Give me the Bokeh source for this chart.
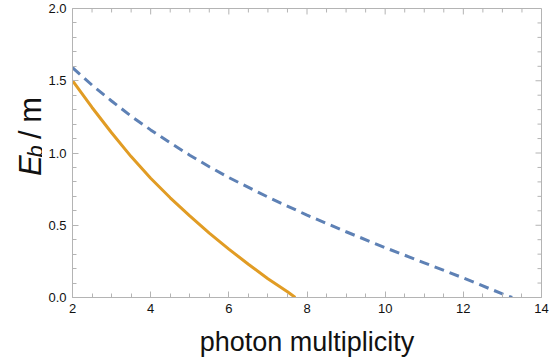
import math
from bokeh.plotting import figure
from bokeh.layouts import row
from bokeh.models import Range1d, FixedTicker
from bokeh.core.properties import value
from bokeh.embed import file_html
from bokeh.resources import INLINE

# ---- data ----
orange_x = [2.0, 2.5, 3.0, 3.5, 4.0, 4.5, 5.0, 5.5, 6.0, 6.5, 7.0, 7.5, 7.7]
orange_y = [1.50, 1.315, 1.14, 0.975, 0.825, 0.69, 0.565, 0.445, 0.335, 0.23, 0.13, 0.04, 0.0]

blue_x = [2.0, 2.5, 3.0, 3.5, 4.0, 4.5, 5.0, 5.5, 6.0, 7.0, 8.0, 9.0,
          10.0, 11.0, 12.0, 13.0, 13.25]
blue_y = [1.59, 1.47, 1.36, 1.255, 1.16, 1.07, 0.985, 0.905, 0.83, 0.695,
          0.57, 0.455, 0.345, 0.24, 0.135, 0.025, 0.0]

x_ticks = [2, 4, 6, 8, 10, 12, 14]
x_minor = [2.5, 3, 3.5, 4.5, 5, 5.5, 6.5, 7, 7.5, 8.5, 9, 9.5,
           10.5, 11, 11.5, 12.5, 13, 13.5]
y_ticks = [0, 0.5, 1.0, 1.5, 2.0]
y_tick_labels = ["0.0", "0.5", "1.0", "1.5", "2.0"]
y_minor = [0.1, 0.2, 0.3, 0.4, 0.6, 0.7, 0.8, 0.9, 1.1, 1.2, 1.3, 1.4,
           1.6, 1.7, 1.8, 1.9]

x_label = "photon multiplicity"
y_label_parts = ["E", "b", "/", "m"]

FRAME = "#b4b4b4"
FONT = "Liberation Sans"
TXT = "#111111"
XMIN, XMAX, YMIN, YMAX = 2, 14, 0, 2
H = 359
LW = 42  # width of the strip holding the y label

# ---------- main plot ----------
p = figure(width=550 - LW, height=H, x_range=Range1d(XMIN, XMAX),
           y_range=Range1d(YMIN, YMAX),
           output_backend="svg", toolbar_location=None,
           min_border_left=72 - LW, min_border_right=9, min_border_top=8,
           min_border_bottom=61)
p.grid.visible = False
p.outline_line_color = FRAME
p.background_fill_color = "white"
p.border_fill_color = "white"

PX_X = (XMAX - XMIN) / 469
PX_Y = (YMAX - YMIN) / 290

for ax in (p.xaxis[0], p.yaxis[0]):
    ax.axis_line_color = FRAME
    ax.major_tick_line_color = FRAME
    ax.minor_tick_line_color = FRAME
    ax.major_tick_in = 6
    ax.major_tick_out = 0
    ax.minor_tick_in = 4
    ax.minor_tick_out = 0
    ax.major_label_text_font = FONT
    ax.major_label_text_font_size = "13px"
    ax.major_label_text_color = TXT
    ax.major_label_standoff = 6

p.xaxis.ticker = FixedTicker(ticks=x_ticks, minor_ticks=x_minor)
p.xaxis.axis_label = x_label
p.xaxis.axis_label_text_font = FONT
p.xaxis.axis_label_text_font_size = "27px"
p.xaxis.axis_label_text_font_style = "normal"
p.xaxis.axis_label_text_color = TXT
p.xaxis.axis_label_standoff = 11

p.yaxis.ticker = FixedTicker(ticks=y_ticks, minor_ticks=y_minor)
p.yaxis.major_label_overrides = {t: s for t, s in zip(y_ticks, y_tick_labels)}

# inward ticks on the top and right frame edges
for ticks, ln in ((x_ticks, 6), (x_minor, 4)):
    n = len(ticks)
    p.segment(x0=ticks, y0=[YMAX] * n, x1=ticks, y1=[YMAX - ln * PX_Y] * n,
              line_color=FRAME, line_width=1)
for ticks, ln in ((y_ticks, 6), (y_minor, 4)):
    n = len(ticks)
    p.segment(x0=[XMAX] * n, y0=ticks, x1=[XMAX - ln * PX_X] * n, y1=ticks,
              line_color=FRAME, line_width=1)

p.line(blue_x, blue_y, line_color="#5E81B5", line_width=3, line_dash="10 6")
p.line(orange_x, orange_y, line_color="#E19C24", line_width=3)

# ---------- strip with the rotated y label  E_b/m ----------
q = figure(width=LW, height=H, x_range=Range1d(0, LW), y_range=Range1d(0, H),
           output_backend="svg", toolbar_location=None,
           x_axis_location=None, y_axis_location=None,
           min_border_left=0, min_border_right=0, min_border_top=0,
           min_border_bottom=0)
q.grid.visible = False
q.outline_line_color = None
q.border_fill_color = "white"

# (baseline x, start y from top, size, style) for each piece
piece_pos = [(30, 208, "31px", "italic"),
             (35, 185, "22px", "italic"),
             (30, 162, "31px", "normal"),
             (30, 142, "31px", "normal")]
for txt, (bx, sy, fs, st) in zip(y_label_parts, piece_pos):
    q.text(x=[bx], y=[H - sy], text=[txt], angle=math.pi / 2,
           text_font=value(FONT), text_font_size=value(fs),
           text_font_style=st, text_color=TXT,
           text_align="left", text_baseline="alphabetic")

layout = row(q, p, spacing=0)
open("out.html", "w").write(file_html(layout, INLINE))
